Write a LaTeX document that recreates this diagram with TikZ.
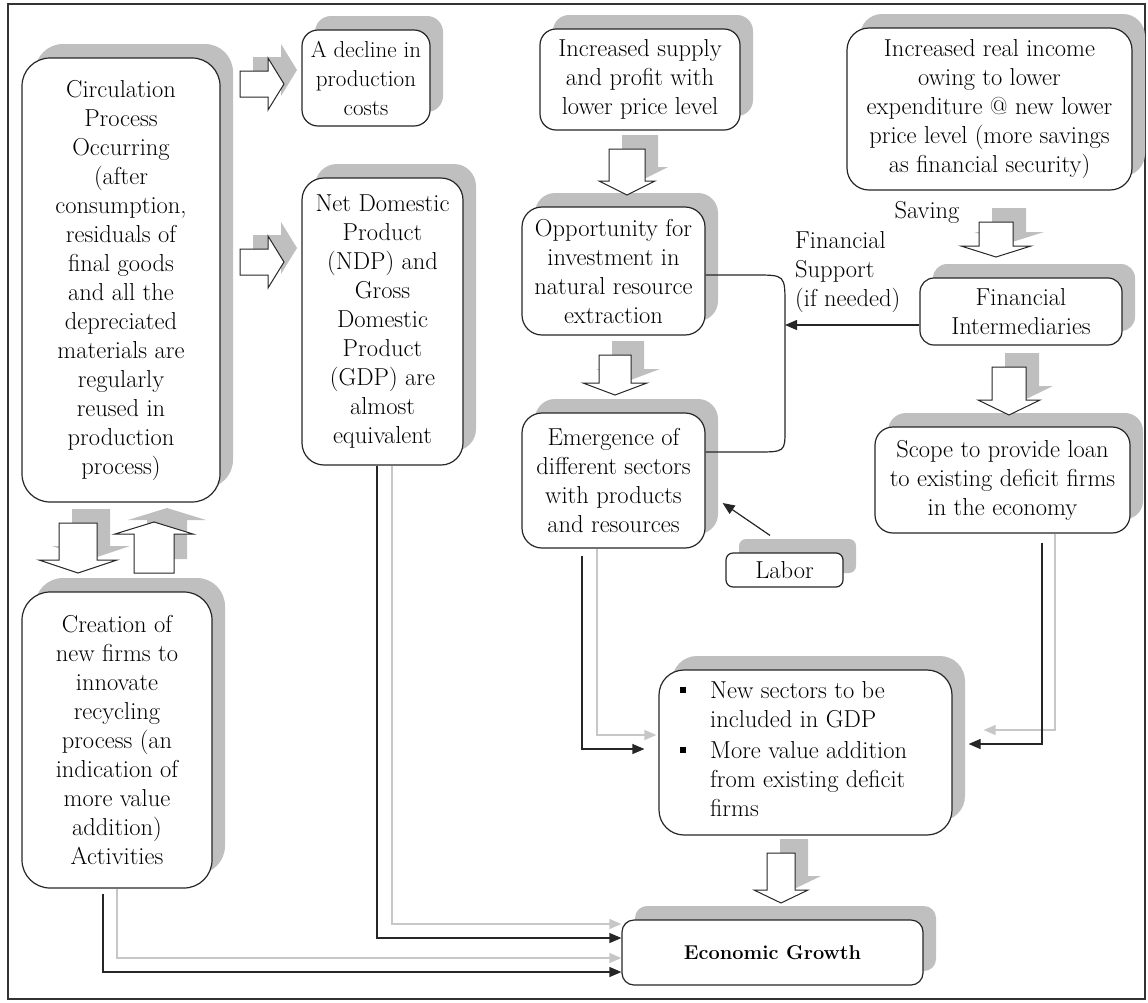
\documentclass[tikz,border=0pt]{standalone}
\usepackage{fontspec}
\usetikzlibrary{shadows,arrows.meta}
\newcommand\mybul{\makebox[30pt][l]{\raisebox{5pt}{\rule{6pt}{6pt}}}}
\tikzset{
  blk/.style={draw=black!85, line width=1pt, fill=white, line join=miter},
  blkshadow/.style={fill=black!25, draw=none},
  pics/bdown/.style args={#1/#2/#3/#4}{code={%
    \path[blkshadow, shift={(13,-14)}] ({-#1},{-#4-#2}) -- ({#1},{-#4-#2}) -- ({#1},{-#4}) -- ({#3},{-#4}) -- (0,0) -- ({-#3},{-#4}) -- ({-#1},{-#4}) -- cycle;
    \path[blk] ({-#1},{-#4-#2}) -- ({#1},{-#4-#2}) -- ({#1},{-#4}) -- ({#3},{-#4}) -- (0,0) -- ({-#3},{-#4}) -- ({-#1},{-#4}) -- cycle;
  }},
  pics/bup/.style args={#1/#2/#3/#4}{code={%
    \path[blkshadow, shift={(13,-14)}] ({-#1},{#4+#2}) -- ({-#1},{#4}) -- ({-#3},{#4}) -- (0,0) -- ({#3},{#4}) -- ({#1},{#4}) -- ({#1},{#4+#2}) -- cycle;
    \path[blk] ({-#1},{#4+#2}) -- ({-#1},{#4}) -- ({-#3},{#4}) -- (0,0) -- ({#3},{#4}) -- ({#1},{#4}) -- ({#1},{#4+#2}) -- cycle;
  }},
  pics/bright/.style args={#1/#2/#3/#4}{code={%
    \path[blkshadow, shift={(13,-14)}] ({-#4-#2},{-#1}) -- ({-#4},{-#1}) -- ({-#4},{-#3}) -- (0,0) -- ({-#4},{#3}) -- ({-#4},{#1}) -- ({-#4-#2},{#1}) -- cycle;
    \path[blk] ({-#4-#2},{-#1}) -- ({-#4},{-#1}) -- ({-#4},{-#3}) -- (0,0) -- ({-#4},{#3}) -- ({-#4},{#1}) -- ({-#4-#2},{#1}) -- cycle;
  }},
  bx/.style={draw=black!85, line width=1.2pt, fill=white, align=center, inner sep=0pt,
    drop shadow={shadow xshift=13pt, shadow yshift=14pt, fill=black!25, opacity=1}},
  conn/.style={draw=black!85, line width=1.2pt, -{Triangle[length=12pt,width=10pt]}},
  conng/.style={draw=black!22, line width=1.3pt, -{Triangle[length=12pt,width=10pt]}},
  plainline/.style={draw=black!85, line width=1.2pt},
}
\begin{document}
\begin{tikzpicture}[x=1pt,y=-1pt, font=\fontsize{24.5}{29}\selectfont]
\useasboundingbox (0,0) rectangle (1148,1002);
\draw[black!80, line width=1.5pt] (8,4) rectangle (1145,999);

% boxes
\node[bx, rounded corners=28pt, minimum width=198pt, minimum height=444pt] (A) at (121,280)
  {Circulation\\Process\\Occurring\\(after\\consumption,\\residuals of\\final goods\\and all the\\depreciated\\materials are\\regularly\\reused in\\production\\process)};
\node[bx, rounded corners=28pt, minimum width=190pt, minimum height=296pt] (B) at (117,740)
  {Creation of\\new firms to\\innovate\\recycling\\process (an\\indication of\\more value\\addition)\\Activities};
\node[bx, rounded corners=16pt, minimum width=128pt, minimum height=96pt, font=\fontsize{23}{29}\selectfont] (C) at (366,78)
  {A decline in\\production\\costs};
\node[bx, rounded corners=22pt, minimum width=161pt, minimum height=287pt] (D) at (382.5,321.5)
  {Net Domestic\\Product\\(NDP) and\\Gross\\Domestic\\Product\\(GDP) are\\almost\\equivalent};
\node[bx, rounded corners=16pt, minimum width=200pt, minimum height=101pt] (E) at (640,79.5)
  {Increased supply\\and profit with\\lower price level};
\node[bx, rounded corners=20pt, minimum width=183pt, minimum height=128pt] (F) at (613.5,271)
  {Opportunity for\\investment in\\natural resource\\extraction};
\node[bx, rounded corners=20pt, minimum width=183pt, minimum height=135pt] (G) at (613.5,480.5)
  {Emergence of\\different sectors\\with products\\and resources};
\node[bx, rounded corners=7pt, minimum width=117pt, minimum height=34pt] (H) at (784.5,570) {Labor};
\node[bx, rounded corners=25pt, minimum width=293pt, minimum height=165pt] (I) at (805.5,752.5) {};
\node[anchor=west, align=left, inner sep=0pt] (Itxt) at (680,749)
  {\mybul New sectors to be\\\hspace*{30pt}included in GDP\\[2pt]\mybul More value addition\\\hspace*{30pt}from existing deficit\\\hspace*{30pt}firms};
\node[bx, rounded corners=12pt, minimum width=301pt, minimum height=65pt, font=\fontsize{20}{24}\selectfont\bfseries] (J) at (772.5,952.5) {Economic Growth};
\node[bx, rounded corners=22pt, minimum width=285pt, minimum height=162pt] (K) at (989.5,109)
  {Increased real income\\owing to lower\\expenditure @ new lower\\price level (more savings\\as financial security)};
\node[bx, rounded corners=14pt, minimum width=202pt, minimum height=67pt] (L) at (1021,311.5)
  {Financial\\Intermediaries};
\node[bx, rounded corners=18pt, minimum width=255pt, minimum height=106pt] (M) at (1002.5,480)
  {Scope to provide loan\\to existing deficit firms\\in the economy};

% labels
\node (sav) at (927,212) {Saving};
\node[anchor=west, align=left, inner sep=0pt] (fs) at (795,272) {Financial\\Support\\(if needed)};

% block arrows
\pic at (284,84) {bright=13/28/26/16};
\pic at (284,262) {bright=13/28/26/16};
\pic at (627,195) {bdown=18/32/28/14};
\pic at (615,395) {bdown=16/28/32/12};
\pic at (996,257) {bdown=17/24/35/11};
\pic at (1009,415) {bdown=17/33/31/15};
\pic at (781,903) {bdown=14/37/27/13};
\pic at (78,573) {bdown=19/37/39/13};
\pic at (154,522) {bup=20/39/39/12};

% bracket between F and G, financial support arrow
\coordinate (brk) at (785,325);
\draw[plainline] ([yshift=-4pt]F.east) -- (755,275) .. controls (785,275) .. (785,305) -- (785,430) .. controls (785,452) .. (755,452) -- ([yshift=28.5pt]G.east);
\draw[conn] ([yshift=-13.5pt]L.west) -- (brk);

% labor
\draw[conn] ([xshift=-14.5pt,yshift=17pt]H.north) -- ([xshift=17pt,yshift=-22.5pt]G.east);

% G -> I
\draw[conng] ([xshift=-16.5pt]G.south) |- ([xshift=-2pt,yshift=17.5pt]I.west);
\draw[conn] ([xshift=-31.5pt,yshift=-7pt]G.south) |- ([xshift=-14pt,yshift=3.5pt]I.west);
% M -> I
\draw[conng] ([xshift=52.5pt]M.south) |- ([xshift=31pt,yshift=22.5pt]I.east);
\draw[conn] ([xshift=39.5pt,yshift=-9pt]M.south) |- ([xshift=16pt,yshift=8.5pt]I.east);
% D -> J
\draw[conng] ([xshift=9.5pt]D.south) |- ([yshift=28.5pt]J.west);
\draw[conn] ([xshift=-5.5pt]D.south) |- ([yshift=14.5pt]J.west);
% B -> J
\draw[conng] (B.south) |- ([yshift=-5.5pt]J.west);
\draw[conn] ([xshift=-14pt,yshift=-5pt]B.south) |- ([yshift=-19.5pt]J.west);
\end{tikzpicture}
\end{document}
